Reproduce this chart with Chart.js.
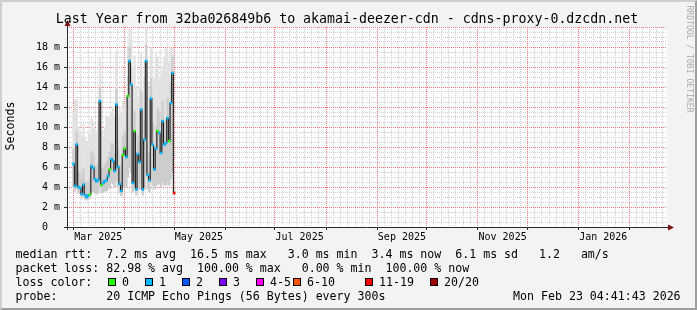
<!DOCTYPE html>
<html>
<head>
<meta charset="utf-8">
<script src="https://cdn.jsdelivr.net/npm/chart.js@4/dist/chart.umd.min.js"></script>
<style>
html,body{margin:0;padding:0;background:#f3f3f3;overflow:hidden;}
#wrap{position:relative;width:697px;height:310px;background:#f3f3f3;font-family:'DejaVu Sans Mono',monospace;color:#000;overflow:hidden;}
#c{position:absolute;left:0;top:0;}
.t{position:absolute;white-space:pre;font-size:11.6px;line-height:14px;height:14px;}
.box{position:absolute;width:8px;height:8px;box-sizing:border-box;border:1px solid #000;}
#title{position:absolute;left:0;width:694px;top:11.4px;text-align:center;white-space:pre;font-size:13.25px;line-height:16px;}
#ylab{position:absolute;left:-25px;top:119px;width:70px;height:14px;line-height:14px;font-size:11.6px;text-align:center;transform:rotate(-90deg);}
#wm{position:absolute;left:629.5px;top:54px;width:120px;height:10px;line-height:10px;font-size:8.1px;text-align:center;color:#aaaaaa;transform:rotate(90deg);white-space:pre;}
#frame{position:absolute;left:0;top:0;width:697px;height:310px;box-sizing:border-box;border-style:solid;border-width:2px;border-color:#cfcfcf #9e9e9e #9e9e9e #cfcfcf;pointer-events:none;}
</style>
</head>
<body>
<div id="wrap">
  <canvas id="c" width="697" height="310"></canvas>
  <div id="title">Last Year from 32ba026849b6 to akamai-deezer-cdn - cdns-proxy-0.dzcdn.net</div>
  <div id="ylab">Seconds</div>
  <div id="wm">RRDTOOL / TOBI OETIKER</div>
  <div class="t" style="left:15.5px;top:247px">median rtt:  7.2 ms avg  16.5 ms max   3.0 ms min  3.4 ms now  6.1 ms sd   1.2   am/s</div>
  <div class="t" style="left:15.5px;top:261px">packet loss: 82.98 % avg  100.00 % max   0.00 % min  100.00 % now</div>
  <div class="t" style="left:15.5px;top:275px">loss color:</div>
  <div id="lossLegend"></div>
  <div class="t" style="left:15.5px;top:289px">probe:       20 ICMP Echo Pings (56 Bytes) every 300s</div>
  <div class="t" style="right:16.4px;top:289px">Mon Feb 23 04:41:43 2026</div>
  <div id="frame"></div>
</div>
<script>
// ---------------- data ----------------
const sampleDates = [
  '2025-03-01','2025-03-02','2025-03-03','2025-03-04','2025-03-05','2025-03-06','2025-03-07','2025-03-08',
  '2025-03-09','2025-03-10','2025-03-11','2025-03-12','2025-03-13','2025-03-14','2025-03-15','2025-03-16',
  '2025-03-17','2025-03-18','2025-03-19','2025-03-20','2025-03-21','2025-03-22','2025-03-23','2025-03-24',
  '2025-03-25','2025-03-26','2025-03-27','2025-03-28','2025-03-29','2025-03-30','2025-03-31','2025-04-01',
  '2025-04-02','2025-04-03','2025-04-04','2025-04-05','2025-04-06','2025-04-07','2025-04-08','2025-04-09',
  '2025-04-10','2025-04-11','2025-04-12','2025-04-13','2025-04-14','2025-04-15','2025-04-16','2025-04-17',
  '2025-04-18','2025-04-19','2025-04-20','2025-04-21','2025-04-22','2025-04-23','2025-04-24','2025-04-25',
  '2025-04-26','2025-04-27','2025-04-28','2025-04-29','2025-04-30','2025-05-01'
];
// median rtt in ms
const medianMs = [
  6.3, 4.1, 8.25, 4.0, 3.9, 3.3, 4.25, 3.2,
  3.0, 3.15, 3.25, 6.1, 5.9, 4.8, 4.55, 4.7,
  12.6, 4.2, 4.4, 4.6, 4.65, 5.1, 5.75, 6.8,
  6.6, 5.6, 12.25, 6.0, 4.3, 3.6, 7.2, 7.85,
  7.0, 13.1, 16.6, 14.25, 4.4, 9.6, 3.75, 7.3,
  6.5, 11.75, 3.75, 8.75, 16.6, 5.2, 4.65, 12.85,
  8.25, 5.75, 7.85, 9.6, 9.4, 7.4, 10.6, 8.25,
  8.4, 10.9, 8.6, 12.4, 15.4, 3.4
];
// loss class index per sample (0 -> "0", 1 -> "1", ... 6 -> "11-19")
const lossClass = [
  1,1,1,1,1,1,1,1,
  1,1,0,1,1,1,1,1,
  1,0,1,1,1,1,0,1,
  1,1,1,1,1,1,0,0,
  1,0,1,1,1,0,1,1,
  1,1,1,1,1,1,1,1,
  1,1,1,0,1,1,1,1,
  1,1,0,1,1,6
];
// smoke (spread of the 20 pings) in ms
const smokeMinMs = [
  4.0, 3.6, 3.9, 3.4, 3.3, 2.9, 3.2, 2.8,
  2.7, 2.8, 2.9, 3.5, 3.6, 3.4, 3.3, 3.4,
  4.2, 3.4, 3.5, 3.6, 3.6, 3.8, 4.0, 4.4,
  4.3, 4.0, 4.6, 4.0, 3.4, 3.1, 3.9, 4.2,
  4.0, 5.0, 6.0, 5.5, 3.5, 4.0, 3.2, 3.9,
  3.8, 4.5, 3.2, 4.0, 5.5, 3.8, 3.5, 4.6,
  4.2, 3.8, 4.1, 4.3, 4.3, 4.0, 4.5, 4.2,
  4.2, 4.5, 4.2, 4.8, 5.5, 3.2
];
const smokeMidMs = [
  7.8, 5.6, 9.5, 5.6, 5.4, 4.8, 5.8, 4.6,
  4.4, 4.5, 4.8, 7.6, 7.3, 6.2, 6.0, 6.4,
  14.0, 5.8, 5.9, 6.2, 6.5, 7.0, 7.5, 8.4,
  8.3, 7.4, 13.8, 7.8, 6.2, 5.5, 9.0, 9.6,
  9.0, 15.0, 18.0, 16.0, 6.8, 11.6, 6.0, 9.2,
  8.5, 13.6, 6.2, 10.8, 18.2, 7.5, 7.0, 14.8,
  10.4, 8.0, 10.0, 11.8, 11.5, 9.6, 12.6, 10.4,
  10.6, 12.9, 10.8, 14.4, 17.0, 3.8
];
const smokeMaxMs = [
  11.5, 12.7, 12.7, 10.0, 9.5, 9.0, 10.2, 9.0,
  8.6, 8.0, 9.5, 10.9, 10.5, 9.8, 9.5, 10.5,
  16.9, 9.5, 9.0, 10.0, 11.1, 11.0, 10.8, 11.5,
  12.0, 11.0, 17.6, 11.0, 11.75, 11.5, 12.6, 12.0,
  13.1, 18.1, 19.9, 19.0, 14.0, 17.1, 14.1, 13.0,
  14.0, 17.4, 13.5, 15.0, 19.9, 14.5, 13.75, 18.0,
  14.5, 14.8, 17.25, 17.0, 14.75, 15.0, 16.0, 17.0,
  17.9, 17.5, 16.5, 17.9, 17.9, 3.9
];
const lossLabels = ['0','1','2','3','4-5','6-10','11-19','20/20'];
const lossColors = ['#26ff00','#00b8ff','#0059ff','#7e00ff','#ff00ff','#ff5500','#ff0000','#a10000'];
const monthStarts = ['2025-02-01','2025-03-01','2025-04-01','2025-05-01','2025-06-01','2025-07-01','2025-08-01',
  '2025-09-01','2025-10-01','2025-11-01','2025-12-01','2026-01-01','2026-02-01','2026-03-01'];
const monthLabels = ['Mar 2025','May 2025','Jul 2025','Sep 2025','Nov 2025','Jan 2026'];
const monthLabelDates = ['2025-03-16','2025-05-16','2025-07-16','2025-09-16','2025-11-16','2026-01-16'];
const yMax = 20;
const yMajorStep = 2;
const yMinorStep = 0.5;

// ---------------- helpers ----------------
const DAY = 86400000;
const ts = s => Date.parse(s + 'T00:00:00Z');
const X_MIN = ts('2025-03-01') - 3.9386 * DAY;
const X_MAX = X_MIN + 363.56 * DAY;

const xMajor = monthStarts.map(ts).filter(v => v >= X_MIN && v <= X_MAX);
const xMinor = [];
for (let i = 0; i < monthStarts.length - 1; i++) {
  const a = ts(monthStarts[i]), b = ts(monthStarts[i + 1]);
  for (let k = 1; k < 7; k++) {
    const v = a + (b - a) * k / 7;
    if (v > X_MIN && v < X_MAX) xMinor.push(v);
  }
}
const labelMap = new Map(monthLabelDates.map((d, i) => [ts(d), monthLabels[i]]));
const xLabelTicks = monthLabelDates.map(ts);
const yAll = [];
for (let v = 0; v <= yMax + 1e-9; v += yMinorStep) yAll.push(Math.round(v * 10) / 10);
const isMajorY = v => Math.abs(v / yMajorStep - Math.round(v / yMajorStep)) < 1e-6;
const yMajor = yAll.filter(isMajorY);
const yMinor = yAll.filter(v => !isMajorY(v));
const yLabelTicks = yMajor.filter(v => v < yMax);

// legend boxes
const boxLeft = [108, 145, 182, 219, 256, 293, 365, 430];
const lg = document.getElementById('lossLegend');
lossLabels.forEach((lab, i) => {
  const b = document.createElement('div');
  b.className = 'box'; b.style.left = boxLeft[i] + 'px'; b.style.top = '278px'; b.style.background = lossColors[i];
  lg.appendChild(b);
  const t = document.createElement('div');
  t.className = 't'; t.style.left = (boxLeft[i] + 14) + 'px'; t.style.top = '275px'; t.textContent = lab;
  lg.appendChild(t);
});

const MAJOR_RED = '#f07878';
const MINOR_GRAY = '#cfcfcf';
const AXIS = '#2a2a2a';

const deco = {
  id: 'deco',
  beforeDraw(chart) {
    const {ctx, chartArea: a} = chart;
    ctx.save();
    ctx.fillStyle = '#ffffff';
    ctx.fillRect(a.left, a.top, a.right - a.left, a.bottom - a.top);
    ctx.restore();
  },
  beforeDatasetsDraw(chart) {
    const {ctx, chartArea: a, scales: {x, y}} = chart;
    ctx.save();
    ctx.lineWidth = 1;
    ctx.setLineDash([1, 1]);
    const vline = (v, col) => {
      const px = Math.floor(x.getPixelForValue(v)) + 0.5;
      ctx.strokeStyle = col; ctx.beginPath(); ctx.moveTo(px, a.top); ctx.lineTo(px, a.bottom); ctx.stroke();
    };
    const hline = (v, col) => {
      const py = Math.floor(y.getPixelForValue(v)) + 0.5;
      ctx.strokeStyle = col; ctx.beginPath(); ctx.moveTo(a.left, py); ctx.lineTo(a.right, py); ctx.stroke();
    };
    xMinor.forEach(v => vline(v, MINOR_GRAY));
    yMinor.forEach(v => hline(v, MINOR_GRAY));
    xMajor.forEach(v => vline(v, MAJOR_RED));
    yMajor.forEach(v => { if (v > 0) hline(v, MAJOR_RED); });
    // tick marks
    ctx.setLineDash([]);
    ctx.strokeStyle = AXIS;
    xMajor.forEach(v => {
      const px = Math.floor(x.getPixelForValue(v)) + 0.5;
      ctx.beginPath(); ctx.moveTo(px, a.bottom); ctx.lineTo(px, a.bottom + 3); ctx.stroke();
    });
    yLabelTicks.forEach(v => {
      const py = Math.floor(y.getPixelForValue(v)) + 0.5;
      ctx.beginPath(); ctx.moveTo(a.left - 3, py); ctx.lineTo(a.left, py); ctx.stroke();
    });
    ctx.restore();
  },
  afterDraw(chart) {
    const {ctx, chartArea: a} = chart;
    const x0 = Math.round(a.left) + 0.5, y0 = Math.round(a.bottom) + 0.5;
    ctx.save();
    ctx.strokeStyle = AXIS; ctx.lineWidth = 1;
    ctx.beginPath(); ctx.moveTo(x0, a.bottom + 3); ctx.lineTo(x0, a.top - 4); ctx.stroke();
    ctx.beginPath(); ctx.moveTo(a.left - 3, y0); ctx.lineTo(a.right + 4, y0); ctx.stroke();
    ctx.fillStyle = '#7a1010';
    ctx.beginPath(); ctx.moveTo(x0 - 3, a.top - 1); ctx.lineTo(x0 + 3, a.top - 1); ctx.lineTo(x0, a.top - 7); ctx.closePath(); ctx.fill();
    ctx.beginPath(); ctx.moveTo(a.right + 1, y0 - 3); ctx.lineTo(a.right + 1, y0 + 3); ctx.lineTo(a.right + 7, y0); ctx.closePath(); ctx.fill();
    ctx.restore();
  }
};

Chart.defaults.font.family = "'DejaVu Sans Mono', monospace";
Chart.defaults.color = '#000';

new Chart(document.getElementById('c'), {
  type: 'bar',
  data: {
    datasets: [
      {
        type: 'line',
        label: 'median rtt',
        data: sampleDates.map((d, i) => ({x: ts(d), y: medianMs[i]})),
        borderColor: '#1a1a1a',
        borderWidth: 1.1,
        stepped: 'middle',
        pointStyle: 'rect',
        pointRadius: 1.8,
        pointBorderWidth: 0,
        pointHoverRadius: 0,
        pointBackgroundColor: lossClass.map(c => lossColors[c]),
        order: 0
      },
      {
        label: 'smoke core',
        data: sampleDates.map((d, i) => ({x: ts(d), y: [smokeMinMs[i], smokeMidMs[i]]})),
        backgroundColor: '#cdcdcd',
        borderWidth: 0,
        grouped: false,
        barPercentage: 1,
        categoryPercentage: 1,
        order: 1
      },
      {
        label: 'smoke',
        data: sampleDates.map((d, i) => ({x: ts(d), y: [smokeMinMs[i], smokeMaxMs[i]]})),
        backgroundColor: '#e2e2e2',
        borderWidth: 0,
        grouped: false,
        barPercentage: 1,
        categoryPercentage: 1,
        order: 2
      }
    ]
  },
  options: {
    responsive: false,
    animation: false,
    devicePixelRatio: 1,
    events: [],
    layout: {padding: {left: 0, right: 30, top: 27, bottom: 63}},
    plugins: {legend: {display: false}, tooltip: {enabled: false}, title: {display: false}},
    scales: {
      x: {
        type: 'linear',
        min: X_MIN, max: X_MAX,
        offset: false,
        afterFit: s => { s.height = 20; },
        afterBuildTicks: s => { s.ticks = xLabelTicks.map(v => ({value: v})); },
        ticks: {
          autoSkip: false, maxRotation: 0, minRotation: 0, padding: 1,
          font: {size: 10}, color: '#000',
          callback: v => labelMap.get(v) || ''
        },
        grid: {display: true, drawOnChartArea: false, drawTicks: true, tickLength: 3, tickColor: 'rgba(0,0,0,0)', offset: false},
        border: {display: false}
      },
      y: {
        min: 0, max: yMax,
        afterFit: s => { s.width = 67; },
        afterBuildTicks: s => { s.ticks = yLabelTicks.map(v => ({value: v})); },
        ticks: {
          autoSkip: false, padding: 4, font: {size: 10}, color: '#000',
          callback: v => v === 0 ? '0  ' : v + ' m'
        },
        grid: {display: true, drawOnChartArea: false, drawTicks: true, tickLength: 3, tickColor: 'rgba(0,0,0,0)'},
        border: {display: false}
      }
    }
  },
  plugins: [deco]
});
</script>
</body>
</html>
